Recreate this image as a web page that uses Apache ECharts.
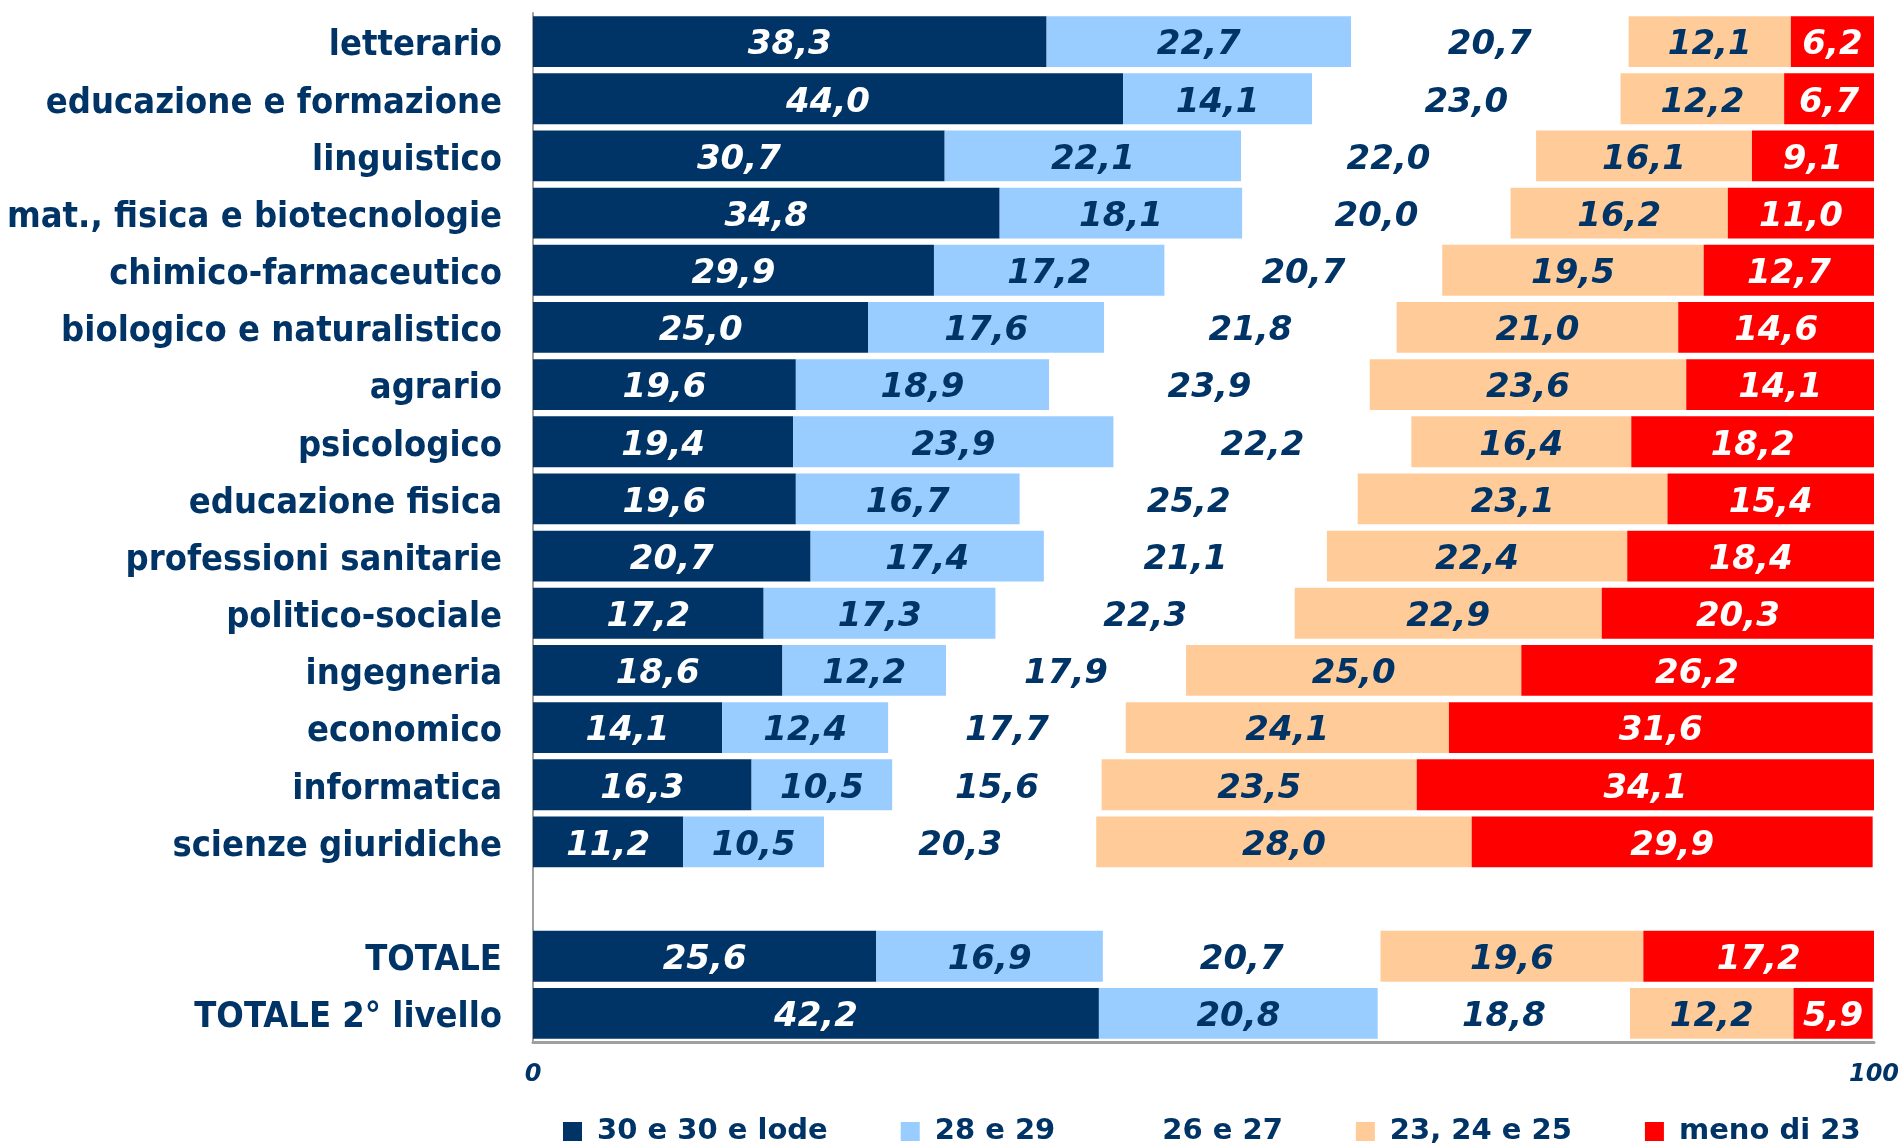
<!DOCTYPE html>
<html>
<head>
<meta charset="utf-8">
<script src="https://cdn.jsdelivr.net/npm/echarts@6/dist/echarts.min.js"></script>
<style>
  html, body { margin: 0; padding: 0; background: #fff; }
  #chart-container { width: 1903px; height: 1144px; }
</style>
</head>
<body>
<div id="chart-container"></div>
<script>
var categories = [
  'letterario', 'educazione e formazione', 'linguistico', 'mat., fisica e biotecnologie',
  'chimico-farmaceutico', 'biologico e naturalistico', 'agrario', 'psicologico',
  'educazione fisica', 'professioni sanitarie', 'politico-sociale', 'ingegneria',
  'economico', 'informatica', 'scienze giuridiche', '', 'TOTALE', 'TOTALE 2° livello'
];
var seriesNames = ['30 e 30 e lode', '28 e 29', '26 e 27', '23, 24 e 25', 'meno di 23'];
var v30 = [38.3, 44.0, 30.7, 34.8, 29.9, 25.0, 19.6, 19.4, 19.6, 20.7, 17.2, 18.6, 14.1, 16.3, 11.2, '-', 25.6, 42.2];
var v28 = [22.7, 14.1, 22.1, 18.1, 17.2, 17.6, 18.9, 23.9, 16.7, 17.4, 17.3, 12.2, 12.4, 10.5, 10.5, '-', 16.9, 20.8];
var v26 = [20.7, 23.0, 22.0, 20.0, 20.7, 21.8, 23.9, 22.2, 25.2, 21.1, 22.3, 17.9, 17.7, 15.6, 20.3, '-', 20.7, 18.8];
var v23 = [12.1, 12.2, 16.1, 16.2, 19.5, 21.0, 23.6, 16.4, 23.1, 22.4, 22.9, 25.0, 24.1, 23.5, 28.0, '-', 19.6, 12.2];
var vLow = [6.2, 6.7, 9.1, 11.0, 12.7, 14.6, 14.1, 18.2, 15.4, 18.4, 20.3, 26.2, 31.6, 34.1, 29.9, '-', 17.2, 5.9];
var values = [v30, v28, v26, v23, vLow];
var colors = ['#003366', '#99CCFF', '#FFFFFF', '#FFCC99', '#FF0000'];
var labelColors = ['#FFFFFF', '#003366', '#003366', '#003366', '#FFFFFF'];

var navy = '#003366';
var dom = document.getElementById('chart-container');
var myChart = echarts.init(dom, null, {renderer: 'canvas'});

function fmt(p) {
  return Number(p.value).toFixed(1).replace('.', ',');
}

var series = seriesNames.map(function (name, i) {
  return {
    name: name,
    type: 'bar',
    stack: 'tot',
    barCategoryGap: '11%',
    data: values[i],
    itemStyle: {color: colors[i]},
    label: {
      show: true,
      position: 'inside',
      offset: [0, 4],
      formatter: fmt,
      color: labelColors[i],
      fontFamily: 'DejaVu Sans',
      fontWeight: 'bold',
      fontStyle: 'italic',
      fontSize: 34
    }
  };
});

option = {
  animation: false,
  grid: {left: 533, right: 29, top: 13, bottom: 102, containLabel: false},
  xAxis: {
    type: 'value',
    min: 0, max: 100, interval: 100,
    splitLine: {show: false},
    axisTick: {show: false},
    axisLine: {show: true, lineStyle: {color: '#a0a0a0', width: 3}},
    axisLabel: {
      color: navy, fontFamily: 'DejaVu Sans', fontWeight: 'bold', fontStyle: 'italic',
      fontSize: 24, margin: 21
    }
  },
  yAxis: {
    type: 'category',
    inverse: true,
    data: categories,
    axisTick: {show: false},
    axisLine: {show: true, lineStyle: {color: '#a0a0a0', width: 2}},
    axisLabel: {
      margin: 31,
      formatter: function (v) { return v ? '{c|' + v + '}' : ''; },
      rich: {
        c: {
          color: navy, fontFamily: "'DejaVu Sans Condensed', 'DejaVu Sans'", fontWeight: 'bold',
          fontSize: 36, padding: [9, 0, 0, 0]
        }
      }
    }
  },
  legend: {
    left: 558, top: 1112,
    itemWidth: 19, itemHeight: 19, itemGap: 73,
    icon: 'rect',
    data: seriesNames,
    textStyle: {
      color: navy, fontFamily: 'DejaVu Sans', fontWeight: 'bold', fontSize: 29,
      padding: [0, 0, 0, 10]
    }
  },
  series: series
};

myChart.setOption(option);
window.addEventListener('resize', myChart.resize);
</script>
</body>
</html>
